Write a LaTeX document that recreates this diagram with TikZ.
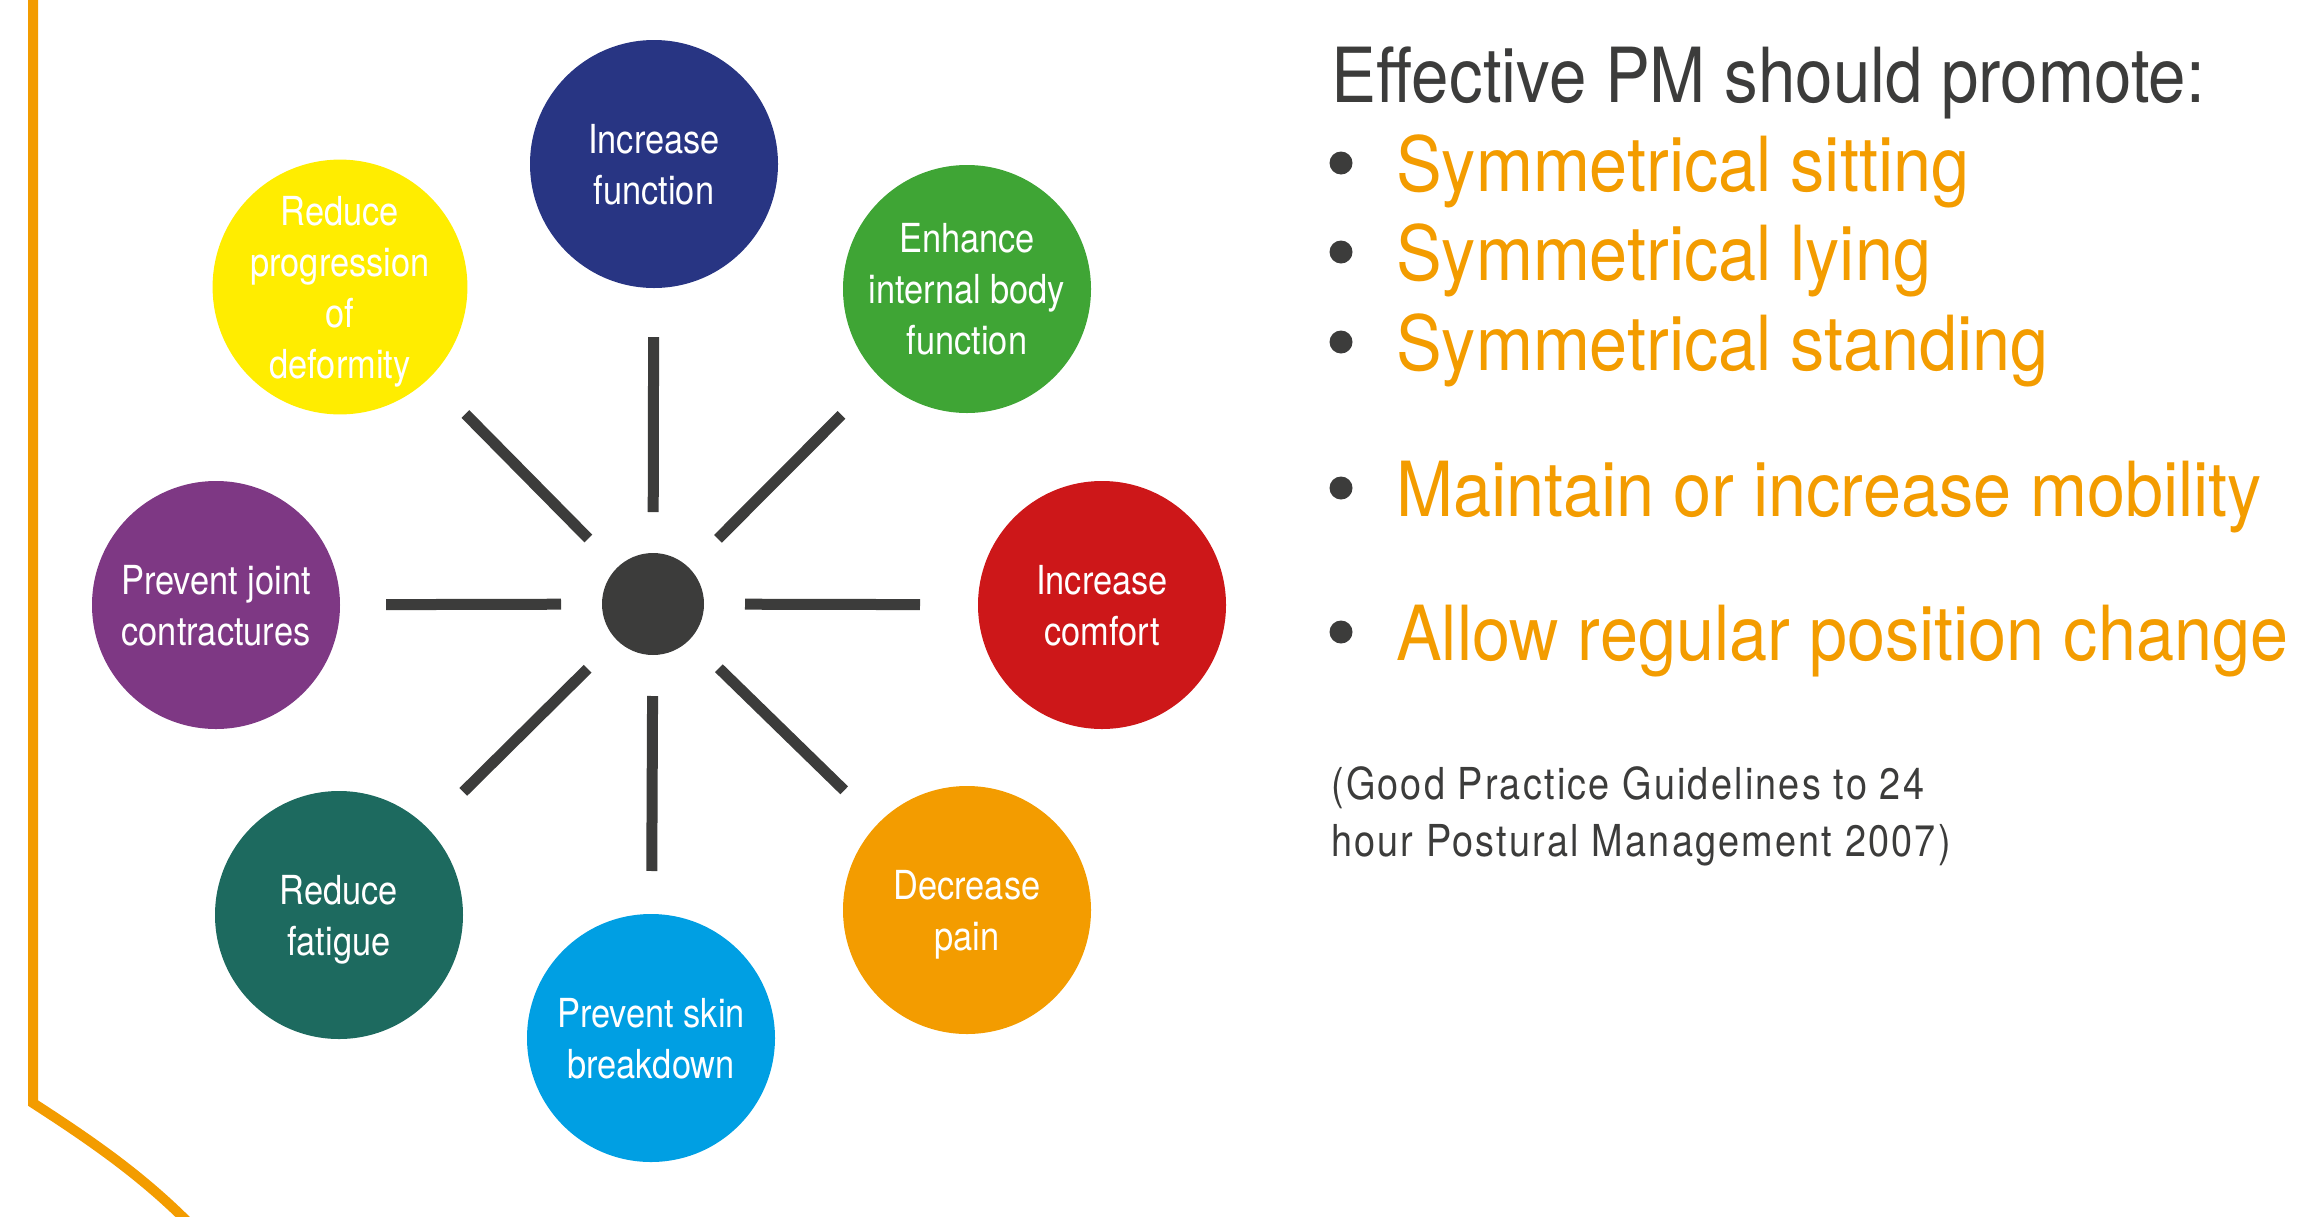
\documentclass[tikz,border=0pt]{standalone}
\usepackage{fontspec}
\setmainfont{TeX Gyre Heros}[FakeStretch=0.86]
\newfontfamily\headfont{TeX Gyre Heros}[FakeStretch=0.885]
\newfontfamily\bulletfont{TeX Gyre Heros}[FakeStretch=0.90]
\newfontfamily\citefont{TeX Gyre Heros}[FakeStretch=0.86,LetterSpace=5]
\usetikzlibrary{calc}
\definecolor{dgray}{HTML}{3C3C3B}
\definecolor{pmorange}{HTML}{F39C00}
\definecolor{cblue}{HTML}{283583}
\definecolor{cgreen}{HTML}{3FA535}
\definecolor{cred}{HTML}{CD1719}
\definecolor{corange}{HTML}{F39C00}
\definecolor{ccyan}{HTML}{009FE3}
\definecolor{cteal}{HTML}{1D6A5F}
\definecolor{cpurple}{HTML}{7E3884}
\definecolor{cyellow}{HTML}{FFED00}
\tikzset{
  goal/.style={circle, minimum size=248pt, inner sep=0pt, text=white, align=center,
    text depth=0pt, font=\fontsize{40}{51}\selectfont},
  spoke/.style={line width=11pt, draw=dgray, line cap=butt},
  bulletdot/.style={circle, fill=dgray, minimum size=23pt, inner sep=0pt},
  headtext/.style={anchor=base west, inner sep=0pt, font=\headfont\fontsize{76}{90}\selectfont},
  bigtext/.style={anchor=base west, inner sep=0pt, font=\bulletfont\fontsize{76}{90}\selectfont},
  citetext/.style={anchor=base west, inner sep=0pt, text=dgray, font=\citefont\fontsize{44}{57}\selectfont},
  frame/.style={draw=pmorange, line width=10pt}
}
\begin{document}
\begin{tikzpicture}[x=1pt, y=-1pt]
\useasboundingbox (0,0) rectangle (2321,1216);
\begin{scope}
\clip (0,0) rectangle (2321,1216);
\draw[frame] (33,-10) -- (33,1103) .. controls (90,1140) and (150,1180) .. (205,1240);
\end{scope}

\node[circle, fill=dgray, minimum size=102pt, inner sep=0pt] (c) at (653,604) {};

\node[goal, fill=cblue]   (n1) at (654,164)  {Increase\\function};
\node[goal, fill=cgreen]  (n2) at (967,289)  {Enhance\\internal body\\function};
\node[goal, fill=cred]    (n3) at (1102,605) {Increase\\comfort};
\node[goal, fill=corange] (n4) at (967,910)  {Decrease\\pain};
\node[goal, fill=ccyan]   (n5) at (651,1038) {Prevent skin\\breakdown};
\node[goal, fill=cteal]   (n6) at (339,915)  {Reduce\\fatigue};
\node[goal, fill=cpurple] (n7) at (216,605)  {Prevent joint\\contractures};
\node[goal, fill=cyellow] (n8) at (340,287)  {Reduce\\progression\\of\\deformity};

\foreach \n in {n1,n2,n3,n4,n5,n6,n7,n8}{
  \draw[spoke] ($(c)!92pt!(\n)$) -- ($(c)!267pt!(\n)$);
}

\node[headtext, text=dgray] (head) at (1331,102) {Effective PM should promote:};
\node[bulletdot] (b1) at (1341,163) {};
\node[bulletdot] (b2) at (1341,252) {};
\node[bulletdot] (b3) at (1341,342) {};
\node[bulletdot] (b4) at (1341,488) {};
\node[bulletdot] (b5) at (1341,632) {};
\node[bigtext, text=pmorange] (t1) at (1396,191) {Symmetrical sitting};
\node[bigtext, text=pmorange] (t2) at (1396,280) {Symmetrical lying};
\node[bigtext, text=pmorange] (t3) at (1396,370) {Symmetrical standing};
\node[bigtext, text=pmorange] (t4) at (1396,516) {Maintain or increase mobility};
\node[bigtext, text=pmorange] (t5) at (1396,660) {Allow regular position change};
\node[citetext] (cite1) at (1331,799) {(Good Practice Guidelines to 24};
\node[citetext] (cite2) at (1331,856) {hour Postural Management 2007)};
\end{tikzpicture}
\end{document}
